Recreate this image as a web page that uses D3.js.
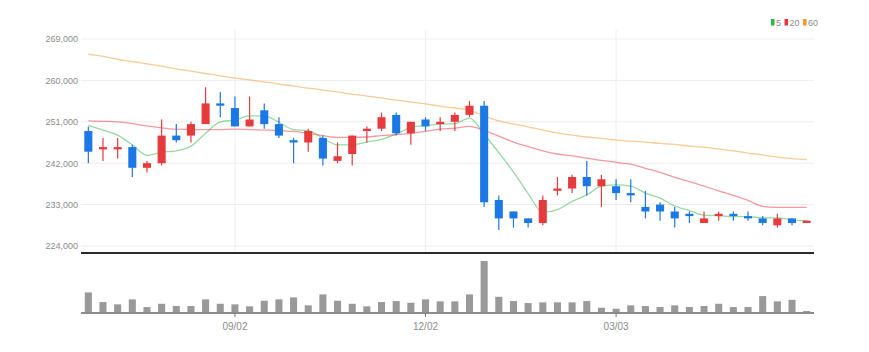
<!DOCTYPE html>
<html>
<head>
<meta charset="utf-8">
<script src="https://cdn.jsdelivr.net/npm/d3@7"></script>
<style>
  body { margin: 0; background: #fff; }
  svg text { font-family: "Liberation Sans Narrow", "Liberation Sans", sans-serif; fill: #8a8a8a; }
</style>
</head>
<body>
<svg id="chart" width="869" height="352"></svg>
<script>
"use strict";

// weekly candles, oldest first
const opens = [249000, 245000, 245000, 245500, 241000, 242000, 248000, 248000, 250500, 255000,
  254000, 250000, 253500, 250500, 247000, 246500, 247500, 242500, 244000, 249000,
  249500, 252500, 248500, 251500, 250500, 251000, 252500, 254500, 234000, 231500,
  230000, 229000, 236000, 236500, 239000, 237000, 237000, 235500, 232500, 233000,
  231500, 231000, 229000, 230500, 231000, 230500, 230000, 228500, 230000, 229000];
const highs = [250000, 247500, 247500, 246000, 242500, 251500, 250500, 251000, 258500, 257500,
  256500, 256500, 255000, 252000, 247500, 249500, 248000, 246500, 248000, 250000,
  253000, 253000, 251000, 252000, 252000, 253000, 255500, 255500, 235000, 231500,
  230000, 235000, 239000, 239500, 242500, 239500, 238500, 238500, 236000, 233500,
  232500, 231500, 231500, 231500, 231500, 231500, 230500, 231000, 230000, 229500];
const lows = [242000, 242500, 243000, 239000, 240000, 241500, 246500, 246500, 250500, 252000,
  250000, 250000, 249500, 247500, 242000, 244500, 241500, 242000, 241500, 246500,
  249000, 248000, 246000, 249000, 249000, 249000, 252000, 232500, 227500, 228000,
  228000, 228500, 235000, 235500, 235000, 232500, 234000, 233500, 230000, 229500,
  228000, 229000, 229000, 229500, 229500, 229500, 228500, 228000, 228500, 229000];
const closes = [244500, 245500, 245500, 241000, 242000, 248000, 247000, 250500, 255000, 254500,
  250000, 251500, 250500, 248000, 246500, 249000, 243000, 243500, 248000, 249500,
  252000, 248500, 251000, 250000, 251000, 252500, 254500, 233500, 230000, 230000,
  229000, 234000, 236500, 239000, 237000, 238500, 235500, 235000, 231500, 231500,
  230000, 230500, 230000, 231000, 230500, 230000, 229000, 230000, 229000, 229500];
const volumes = [207, 110, 87, 137, 60, 93, 70, 70, 137, 93,
  87, 67, 123, 137, 157, 77, 187, 123, 93, 67,
  110, 120, 103, 137, 117, 117, 187, 523, 163, 120,
  100, 107, 107, 107, 120, 53, 43, 77, 70, 60,
  77, 60, 70, 93, 60, 60, 170, 117, 133, 20];

// moving averages (5, 20, 60 weeks)
const ma5 = [250200, 249200, 248100, 246000, 243700, 244400, 244700, 245700, 248500, 251000,
  251400, 252300, 252300, 250900, 249300, 249100, 247400, 246000, 246000, 246600,
  247200, 248300, 249800, 250200, 250500, 250600, 251800, 248300, 244300, 240100,
  235400, 231300, 231900, 233700, 235100, 237000, 237300, 237000, 235500, 234400,
  232700, 231700, 230700, 230600, 230400, 230400, 230100, 230100, 229700, 229500];
const ma20 = [251200, 251100, 251000, 250600, 250100, 249700, 249400, 249300, 249300, 249300,
  249400, 249300, 249200, 249100, 248900, 248500, 248000, 247600, 247600, 247700,
  248000, 248200, 248500, 248900, 249400, 249600, 250000, 249100, 247900, 246600,
  245600, 244700, 244000, 243600, 243100, 242600, 242200, 241800, 240900, 240000,
  238900, 238000, 237000, 236000, 235000, 233900, 232600, 232400, 232400, 232400];
const ma60 = [265700, 265200, 264600, 264100, 263600, 263100, 262500, 262000, 261500, 261000,
  260500, 260100, 259700, 259200, 258800, 258300, 257900, 257500, 257000, 256600,
  256200, 255700, 255300, 254900, 254400, 254000, 253500, 252300, 251200, 250500,
  249900, 249200, 248600, 248100, 247700, 247400, 247000, 246800, 246600, 246300,
  246100, 245700, 245500, 245100, 244700, 244200, 243800, 243300, 243000, 242800];

const yTicks = [224000, 233000, 242000, 251000, 260000, 269000];
const xTickIdx = [10, 23, 36];
const xTickText = ["09/02", "12/02", "03/03"];
const legendNames = ["5", "20", "60"];

(function() {
  const svg = d3.select("#chart");
  const left = 81, right = 814;
  const upColor = "#e63b3d", downColor = "#1b78e4";
  const maColors = ["#2db83d", "#ee3340", "#f7962b"];

  const idx = d3.range(closes.length);
  const x = d3.scaleBand().domain(idx).range([left, right])
    .paddingInner(0.45).paddingOuter(0.225);
  const bw = x.bandwidth();
  const cx = i => x(i) + bw / 2;

  const y = d3.scaleLinear().domain([224000, 269000]).range([246, 39]);
  const yv = d3.scaleLinear().domain([0, d3.max(volumes)]).range([313, 261]);

  // grid
  const grid = svg.append("g");
  grid.selectAll(".h").data(yTicks).enter().append("line")
    .attr("x1", left).attr("x2", right)
    .attr("y1", d => y(d)).attr("y2", d => y(d))
    .attr("stroke", "#ededed").attr("stroke-width", 1);
  grid.selectAll(".v").data(xTickIdx).enter().append("line")
    .attr("x1", d => cx(d)).attr("x2", d => cx(d))
    .attr("y1", 30).attr("y2", 253)
    .attr("stroke", "#ededed").attr("stroke-width", 1);

  // y axis labels
  const yAxis = svg.append("g")
    .attr("transform", "translate(" + left + ",0)")
    .call(d3.axisLeft(y).tickValues(yTicks).tickFormat(d3.format(",")).tickSize(0).tickPadding(3));
  yAxis.select(".domain").remove();
  yAxis.selectAll("text").style("font-size", "9px").attr("fill", "#8a8a8a");

  // moving averages
  [ma5, ma20, ma60].forEach((ma, k) => {
    svg.append("path")
      .datum(ma)
      .attr("fill", "none")
      .attr("stroke", maColors[k])
      .attr("stroke-opacity", 0.5)
      .attr("stroke-width", 1.3)
      .attr("d", d3.line().x((d, i) => cx(i)).y(d => y(d)).curve(d3.curveMonotoneX));
  });

  // candles
  const candle = svg.append("g").selectAll("g").data(idx).enter().append("g");
  const col = i => closes[i] >= opens[i] ? upColor : downColor;
  candle.append("line")
    .attr("x1", i => cx(i)).attr("x2", i => cx(i))
    .attr("y1", i => y(highs[i])).attr("y2", i => y(lows[i]))
    .attr("stroke", col).attr("stroke-width", 1.2);
  candle.append("rect")
    .attr("x", i => x(i))
    .attr("width", bw)
    .attr("y", i => y(Math.max(opens[i], closes[i])))
    .attr("height", i => Math.max(1.6, Math.abs(y(opens[i]) - y(closes[i]))))
    .attr("fill", col);

  // panel separator
  svg.append("line")
    .attr("x1", left).attr("x2", right).attr("y1", 253).attr("y2", 253)
    .attr("stroke", "#2a2a2a").attr("stroke-width", 2);

  // volume
  svg.append("g").selectAll("rect").data(volumes).enter().append("rect")
    .attr("x", (d, i) => x(i) + 0.5)
    .attr("width", bw - 1)
    .attr("y", d => yv(d))
    .attr("height", d => 313 - yv(d))
    .attr("fill", "#999");

  svg.append("line")
    .attr("x1", left).attr("x2", right).attr("y1", 313).attr("y2", 313)
    .attr("stroke", "#8c8c8c").attr("stroke-width", 2);

  const xAxis = svg.append("g")
    .attr("transform", "translate(0,313)")
    .call(d3.axisBottom(x).tickValues(xTickIdx)
      .tickFormat((d, i) => xTickText[i]).tickSize(4).tickPadding(6));
  xAxis.select(".domain").remove();
  xAxis.selectAll(".tick line").attr("stroke", "#777");
  xAxis.selectAll("text").style("font-size", "10px").attr("fill", "#8a8a8a");

  // legend
  const legend = svg.append("g").attr("transform", "translate(771,19)");
  let lx = 0;
  legendNames.forEach((name, k) => {
    legend.append("rect").attr("x", lx).attr("y", 0).attr("width", 3.5).attr("height", 6.5)
      .attr("fill", maColors[k]);
    const t = legend.append("text").attr("x", lx + 5).attr("y", 6.5)
      .style("font-size", "9px").text(name);
    lx += 5 + t.node().getComputedTextLength() + 3.5;
  });
})();
</script>
</body>
</html>
